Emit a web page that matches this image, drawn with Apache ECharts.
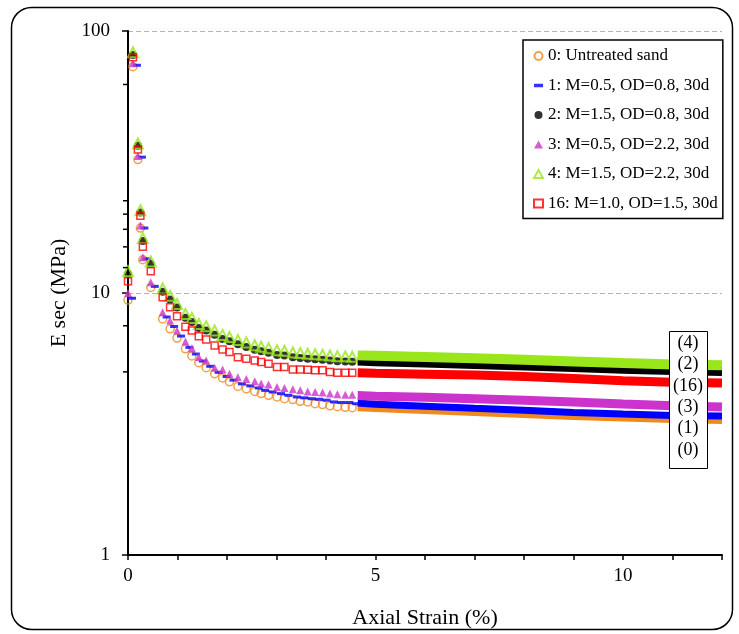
<!DOCTYPE html>
<html><head><meta charset="utf-8">
<script src="https://cdn.jsdelivr.net/npm/echarts@6/dist/echarts.min.js"></script>
<style>html,body{margin:0;padding:0;background:#fff}#c{width:739px;height:634px}</style>
</head><body><div id="c"></div>
<script>
// ---------- data ----------
const seriesNames = [
  '0: Untreated sand',
  '1: M=0.5, OD=0.8, 30d',
  '2: M=1.5, OD=0.8, 30d',
  '3: M=0.5, OD=2.2, 30d',
  '4: M=1.5, OD=2.2, 30d',
  '16: M=1.0, OD=1.5, 30d'
];
// strains (%) of the individually visible markers
const strainMarkers = [0, 0.1, 0.2, 0.25, 0.3, 0.46, 0.70, 0.85, 0.99, 1.16, 1.29, 1.43, 1.58, 1.75, 1.91, 2.05,
  2.22, 2.39, 2.56, 2.69, 2.84, 3.01, 3.16, 3.33, 3.48, 3.63, 3.78, 3.93, 4.08, 4.23, 4.39, 4.53];
const e0 = [9.4, 73.1, 32.3, 17.7, 13.4, 10.5, 7.96, 7.30, 6.73, 6.12, 5.75, 5.42, 5.19, 4.92, 4.74, 4.58,
  4.40, 4.31, 4.21, 4.13, 4.07, 4.01, 3.95, 3.92, 3.86, 3.84, 3.78, 3.75, 3.71, 3.68, 3.66, 3.65];
const e1 = [9.55, 74, 33, 17.7, 13.5, 10.6, 8.1, 7.45, 6.85, 6.2, 5.85, 5.5, 5.25, 4.98, 4.8, 4.65,
  4.5, 4.42, 4.34, 4.25, 4.19, 4.13, 4.07, 4.01, 3.98, 3.95, 3.93, 3.90, 3.84, 3.82, 3.82, 3.78];
const e2 = [11.8, 81, 36.5, 20.3, 15.8, 12.9, 10.1, 9.45, 8.8, 8.05, 7.75, 7.36, 7.2, 6.93, 6.67, 6.55,
  6.37, 6.22, 6.07, 5.99, 5.91, 5.80, 5.77, 5.68, 5.65, 5.61, 5.59, 5.56, 5.52, 5.49, 5.48, 5.46];
const e3 = [10.0, 75.4, 33.3, 18.1, 13.7, 11.0, 8.45, 7.85, 7.19, 6.53, 6.16, 5.70, 5.53, 5.19, 5.11, 4.92,
  4.77, 4.70, 4.60, 4.51, 4.47, 4.38, 4.34, 4.29, 4.25, 4.21, 4.19, 4.17, 4.13, 4.11, 4.09, 4.09];
const e4 = [12.1, 83, 37.2, 20.7, 16.2, 13.2, 10.4, 9.77, 9.08, 8.32, 8.03, 7.62, 7.47, 7.19, 6.92, 6.80,
  6.62, 6.47, 6.32, 6.24, 6.16, 6.05, 6.02, 5.93, 5.90, 5.86, 5.84, 5.81, 5.77, 5.74, 5.73, 5.71];
const e16 = [11.1, 79.4, 35.3, 19.7, 15.0, 12.1, 9.63, 8.82, 8.15, 7.44, 7.19, 6.84, 6.64, 6.30, 6.09, 5.95,
  5.68, 5.61, 5.53, 5.45, 5.37, 5.22, 5.22, 5.11, 5.11, 5.09, 5.07, 5.07, 4.99, 4.96, 4.96, 4.96];
// dense part of each record (markers merge into a band)
const strainBand = [4.64, 5, 6, 7, 8, 9, 10, 11, 12];
const band0  = [3.65, 3.62, 3.56, 3.50, 3.44, 3.38, 3.33, 3.29, 3.26];
const band1  = [3.80, 3.76, 3.70, 3.63, 3.57, 3.50, 3.45, 3.41, 3.39];
const band2  = [5.50, 5.47, 5.41, 5.34, 5.27, 5.19, 5.12, 5.06, 5.02];
const band3  = [4.06, 4.04, 4.00, 3.95, 3.90, 3.84, 3.77, 3.71, 3.67];
const band4  = [5.78, 5.76, 5.70, 5.64, 5.56, 5.48, 5.40, 5.34, 5.30];
const band16 = [4.96, 4.94, 4.90, 4.86, 4.80, 4.72, 4.62, 4.56, 4.53];
const xTickLabels = [0, 5, 10];
const yMinorTicks = [5, 7.5, 12.5, 15, 17.5, 20, 22.5, 62.5];
const endLabels = ['(4)', '(2)', '(16)', '(3)', '(1)', '(0)'];

// ---------- styles ----------
const FONT = '"Liberation Serif", "Times New Roman", serif';
const styles = [
  {color: '#ee8a1f', symbol: 'circle', size: 8, hollow: true, bw: 1.5, band: 7},
  {color: '#0000ff', symbol: 'rect', size: [8, 3], hollow: false, offset: [4, 0], band: 7},
  {color: '#000000', symbol: 'circle', size: 8, hollow: false, band: 9},
  {color: '#cc33cc', symbol: 'triangle', size: 8, hollow: false, band: 9},
  {color: '#99e61a', symbol: 'triangle', size: 10, hollow: true, bw: 2, band: 10},
  {color: '#ff0000', symbol: 'rect', size: 7, hollow: true, bw: 1.5, band: 9}
];
const markerData = [e0, e1, e2, e3, e4, e16];
const bandData = [band0, band1, band2, band3, band4, band16];

const series = [];
seriesNames.forEach((name, i) => {
  const s = styles[i];
  series.push({
    name, type: 'scatter',
    data: strainMarkers.map((x, k) => [x, markerData[i][k]]),
    symbol: s.symbol, symbolSize: s.size, symbolOffset: s.offset || [0, 0],
    itemStyle: s.hollow ? {color: 'rgba(255,255,255,0)', borderColor: s.color, borderWidth: s.bw}
                        : {color: s.color},
    animation: false, silent: true
  });
  series.push({
    name: name + ' band', type: 'line',
    data: strainBand.map((x, k) => [x, bandData[i][k]]),
    showSymbol: false, symbol: 'none',
    lineStyle: {color: s.color, width: s.band, cap: 'butt'},
    animation: false, silent: true
  });
});
series.push({
  type: 'custom', name: 'minorTicks', silent: true, clip: false, z: 5,
  data: yMinorTicks.map(v => [0, v]),
  renderItem: (params, api) => {
    const p = api.coord([0, api.value(1)]);
    return {type: 'line', shape: {x1: p[0] - 5, y1: p[1], x2: p[0], y2: p[1]},
            style: {stroke: '#000', lineWidth: 1.5}};
  }
});

const chart = echarts.init(document.getElementById('c'), null, {renderer: 'canvas'});
chart.setOption({
  animation: false,
  backgroundColor: '#fff',
  grid: {left: 128, right: 17, top: 31, bottom: 77},
  xAxis: {
    type: 'value', min: 0, max: 12, interval: 1,
    name: 'Axial Strain (%)', nameLocation: 'middle', nameGap: 52,
    nameTextStyle: {fontFamily: FONT, fontSize: 22, color: '#000'},
    axisLine: {show: true, onZero: false, lineStyle: {color: '#000', width: 2}},
    axisTick: {show: true, length: 5, lineStyle: {color: '#000', width: 1.5}},
    axisLabel: {formatter: v => xTickLabels.includes(v) ? String(v) : '', margin: 12,
                fontFamily: FONT, fontSize: 19, color: '#000'},
    splitLine: {show: false}
  },
  yAxis: {
    type: 'log', logBase: 10, min: 1, max: 100,
    name: 'E sec (MPa)', nameLocation: 'middle', nameGap: 52,
    nameTextStyle: {fontFamily: FONT, fontSize: 22, color: '#000'},
    axisLine: {show: true, onZero: false, lineStyle: {color: '#000', width: 2}},
    axisTick: {show: true, length: 6, lineStyle: {color: '#000', width: 1.5}},
    axisLabel: {margin: 18, fontFamily: FONT, fontSize: 19, color: '#000'},
    splitLine: {show: true, lineStyle: {color: '#b4b4b4', type: [5, 3], width: 1}}
  },
  legend: {
    data: seriesNames.map((n, i) => i === 1
      ? {name: n, icon: 'path://M0,0L9,0L9,3.5L0,3.5Z'} : {name: n}),
    orient: 'vertical', left: 523, top: 40,
    itemWidth: 9, itemHeight: 8, itemGap: 9.5,
    padding: [6, 5, 5, 10],
    borderColor: '#000', borderWidth: 1.5, backgroundColor: '#fff',
    textStyle: {fontFamily: FONT, fontSize: 17, color: '#000', lineHeight: 20},
    selectedMode: false
  },
  graphic: [
    {type: 'rect', shape: {x: 11.5, y: 7.5, width: 721, height: 622, r: 20},
     style: {fill: 'none', stroke: '#000', lineWidth: 1.5}, silent: true, z: 100},
    {type: 'rect', shape: {x: 669.5, y: 331.5, width: 38, height: 137},
     style: {fill: '#fff', stroke: '#000', lineWidth: 1}, silent: true, z: 100},
    ...endLabels.map((t, k) => ({
      type: 'text', x: 688, y: 343 + k * 21.4, silent: true, z: 101,
      style: {text: t, fontFamily: FONT, fontSize: 18, fill: '#000', align: 'center', verticalAlign: 'middle'}
    }))
  ],
  series
});
</script></body></html>
